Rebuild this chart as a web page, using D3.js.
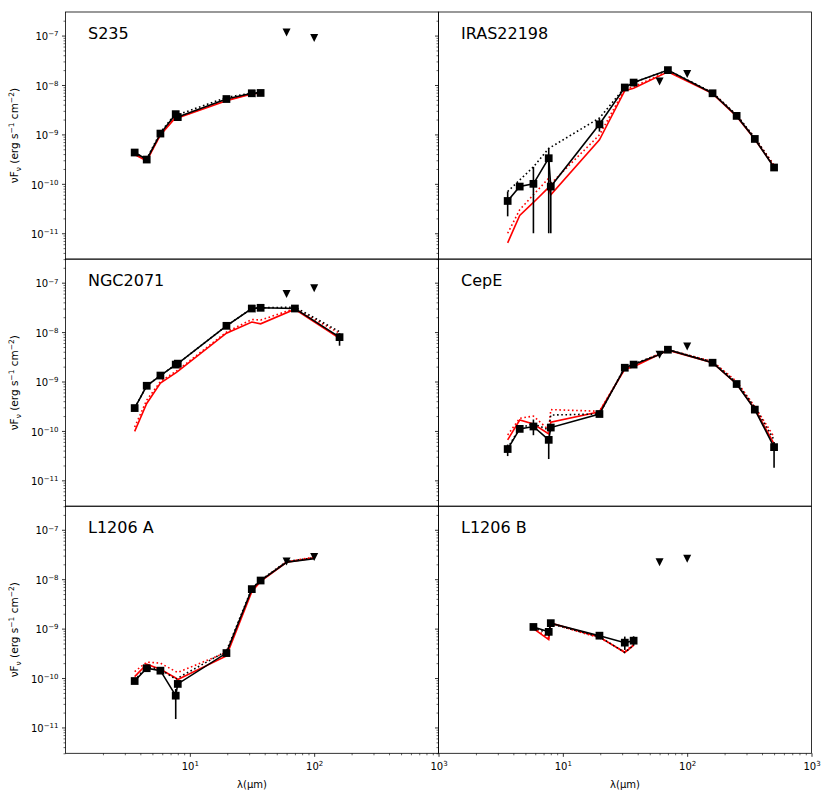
<!DOCTYPE html>
<html>
<head>
<meta charset="utf-8">
<script src="https://cdn.jsdelivr.net/npm/d3@7"></script>
<style>
body { margin: 0; background: #fff; }
text { font-family: "DejaVu Sans", sans-serif; fill: #000; }
</style>
</head>
<body>
<div id="chart"></div>
<script>
// photometric bands (micron) of the square points
var bands = [3.6, 4.5, 5.8, 7.7, 8.0, 19.7, 31.5, 37.1, 70, 160, 250, 350, 500];
// IRAS upper limits
var limitBands = [60, 100];
// wavelength grid the SED curves are drawn on
var lineBands = [3.6, 4.5, 5.8, 7.7, 8.0, 19.7, 31.5, 37.1, 60, 70, 100, 160, 250, 350, 500];

// x tick labels (exponents) and y tick exponents
var xTickExp = [1, 2, 3];
var yTickExp = [-11, -10, -9, -8, -7];

// ---- S235
var s235Obs = [4.3e-10, 3.1e-10, 1.04e-9, 2.57e-9, 2.24e-9, 5.2e-9, 6.8e-9, 6.9e-9, null, null, null, null, null];
var s235Lo = [];
var s235Hi = [];
var s235Lim = [1.15e-7, 8.9e-8];
var s235Solid = [4.3e-10, 3.1e-10, 1.04e-9, 2.57e-9, 2.24e-9, 5.2e-9, 6.8e-9, 6.9e-9];
var s235Dotted = [4.2e-10, 3.2e-10, 1.1e-9, 2.65e-9, 2.5e-9, 5.6e-9, 6.9e-9, 7.0e-9];
var s235Fit = [3.9e-10, 2.9e-10, 9.8e-10, 2.2e-9, 2.15e-9, 4.8e-9, 6.6e-9, 6.8e-9];
var s235Alt = [4.0e-10, 3.0e-10, 1.0e-9, 2.3e-9, 2.2e-9, 5.0e-9, 6.7e-9, 6.9e-9];

// ---- IRAS22198
var irasObs = [4.5e-11, 8.8e-11, 1.0e-10, 3.3e-10, 8.8e-11, 1.6e-9, 8.9e-9, 1.12e-8, 2.0e-8, 6.8e-9, 2.37e-9, 8.1e-10, 2.14e-10];
var irasLo = [2.2e-11, null, 1e-11, 1e-11, 1e-11, 1.14e-9];
var irasHi = [7e-11, null, 2.2e-10, 5.2e-10, 1.1e-10, 2.1e-9];
var irasLim = [1.17e-8, 1.67e-8];
var irasSolid = [4.5e-11, 8.8e-11, 1.0e-10, 3.3e-10, 8.8e-11, 1.6e-9, 8.9e-9, 1.12e-8, null, 2.0e-8, null, 6.8e-9, 2.37e-9, 8.1e-10, 2.14e-10];
var irasDotted = [7e-11, null, 2.2e-10, 5.2e-10, null, 2.15e-9, 8.9e-9, 1.12e-8, null, 2.0e-8, null, 7.0e-9, 2.45e-9, 8.6e-10, 2.3e-10];
var irasFit = [6.4e-12, 2.3e-11, 4.2e-11, 8.5e-11, 6e-11, 7.8e-10, 7.7e-9, 8.6e-9, null, 1.85e-8, null, 6.7e-9, 2.3e-9, 8.0e-10, 2.2e-10];
var irasAlt = [1e-11, 3.0e-11, 6e-11, 1.3e-10, 1.0e-10, 9.8e-10, 8.2e-9, 9.2e-9, null, 1.9e-8, null, 7.0e-9, 2.45e-9, 8.5e-10, 2.4e-10];

// ---- NGC2071
var ngcObs = [2.9e-10, 8.2e-10, 1.32e-9, 2.2e-9, 2.3e-9, 1.34e-8, 3.0e-8, 3.1e-8, 3.0e-8, 7.9e-9, null, null, null];
var ngcLo = [null, null, null, null, null, null, null, null, null, 5.3e-9];
var ngcHi = [null, null, null, null, null, null, null, null, null, 9.5e-9];
var ngcLim = [5.9e-8, 7.7e-8];
var ngcSolid = [2.9e-10, 8.2e-10, 1.32e-9, 2.2e-9, 2.3e-9, 1.34e-8, 3.0e-8, 3.1e-8, null, 3.0e-8, null, 7.9e-9];
var ngcDotted = [2.9e-10, 8.2e-10, 1.32e-9, 2.2e-9, 2.3e-9, 1.34e-8, 3.0e-8, 3.1e-8, null, 3.2e-8, null, 1.02e-8];
var ngcFit = [9.8e-11, 3.6e-10, 9.3e-10, 1.5e-9, 1.6e-9, 9.5e-9, 1.6e-8, 1.47e-8, null, 2.9e-8, null, 7.5e-9];
var ngcAlt = [1.2e-10, 4.2e-10, 1.0e-9, 1.6e-9, 1.7e-9, 1.0e-8, 1.8e-8, 1.75e-8, null, 3.0e-8, null, 9.5e-9];

// ---- CepE
var cepObs = [4.3e-11, 1.1e-10, 1.23e-10, 6.6e-11, 1.17e-10, 2.2e-10, 1.9e-9, 2.2e-9, 4.4e-9, 2.4e-9, 8.9e-10, 2.7e-10, 4.7e-11];
var cepLo = [3.1e-11, null, 8.2e-11, 2.7e-11, null, null, null, null, null, null, null, 2.3e-10, 1.8e-11];
var cepHi = [5.3e-11, null, 1.7e-10, 8e-11, null, null, null, null, null, null, null, 3.2e-10, 6e-11];
var cepLim = [3.5e-9, 5.1e-9];
var cepSolid = [4.3e-11, 1.1e-10, 1.23e-10, 6.6e-11, 1.17e-10, 2.2e-10, 1.9e-9, 2.2e-9, 3.5e-9, 4.4e-9, null, 2.4e-9, 8.9e-10, 2.7e-10, 4.7e-11];
var cepDotted = [4.5e-11, 1.15e-10, 1.4e-10, 1.05e-10, 2.1e-10, 2.2e-10, 1.95e-9, 2.25e-9, 3.6e-9, 4.4e-9, null, 2.5e-9, 9.5e-10, 3.0e-10, 6.6e-11];
var cepFit = [6.6e-11, 1.66e-10, 1.38e-10, 8.7e-11, 1.5e-10, 2.45e-10, 1.78e-9, 2.0e-9, null, 4.3e-9, null, 2.4e-9, 8.9e-10, 2.8e-10, 5.5e-11];
var cepAlt = [8.3e-11, 1.8e-10, 2.0e-10, 1.05e-10, 2.7e-10, 2.5e-10, 1.8e-9, 2.1e-9, null, 4.4e-9, null, 2.55e-9, 1.0e-9, 3.1e-10, 7.6e-11];

// ---- L1206 A
var l1206aObs = [8.7e-11, 1.58e-10, 1.41e-10, 4.4e-11, 7.6e-11, 3.2e-10, 6.3e-9, 9.4e-9, null, null, null, null, null];
var l1206aLo = [null, null, null, 1.48e-11];
var l1206aHi = [null, null, null, 6e-11];
var l1206aLim = [2.27e-8, 2.8e-8];
var l1206aSolid = [8.7e-11, 1.58e-10, 1.41e-10, 4.4e-11, 7.6e-11, 3.2e-10, 6.3e-9, 9.4e-9, 2.2e-8, null, 2.6e-8];
var l1206aDotted = [9e-11, 1.7e-10, 1.5e-10, 9.5e-11, 1.0e-10, 3.5e-10, 6.5e-9, 9.5e-9, 2.3e-8, null, 2.7e-8];
var l1206aFit = [1.07e-10, 1.9e-10, 1.5e-10, 1.0e-10, 9.3e-11, 2.8e-10, 5.6e-9, 9.0e-9, 2.2e-8, null, 2.7e-8];
var l1206aAlt = [1.35e-10, 2.1e-10, 2.0e-10, 1.35e-10, 1.3e-10, 3.3e-10, 6.0e-9, 9.3e-9, 2.25e-8, null, 2.8e-8];

// ---- L1206 B
var l1206bObs = [null, null, 1.08e-9, 8.6e-10, 1.29e-9, 7.2e-10, 5.2e-10, 5.7e-10, null, null, null, null, null];
var l1206bLo = [null, null, null, 7e-10, null, null, 3.7e-10, 4.5e-10];
var l1206bHi = [null, null, null, 1.0e-9, null, null, 6.9e-10, 7e-10];
var l1206bLim = [2.2e-8, 2.6e-8];
var l1206bSolid = [null, null, 1.08e-9, 8.6e-10, 1.29e-9, 7.2e-10, 5.2e-10, 5.7e-10];
var l1206bDotted = [null, null, 1.05e-9, 8.0e-10, 1.25e-9, 6.8e-10, 3.3e-10, 4.6e-10];
var l1206bFit = [null, null, 1.0e-9, 6.0e-10, 1.3e-9, 6.8e-10, 3.3e-10, 4.6e-10];
var l1206bAlt = [null, null, 1.02e-9, 6.5e-10, 1.28e-9, 6.5e-10, 3.4e-10, 4.8e-10];

var panels = [
  {name: "S235", obs: s235Obs, lo: s235Lo, hi: s235Hi, lim: s235Lim, solid: s235Solid, dotted: s235Dotted, fit: s235Fit, alt: s235Alt},
  {name: "IRAS22198", obs: irasObs, lo: irasLo, hi: irasHi, lim: irasLim, solid: irasSolid, dotted: irasDotted, fit: irasFit, alt: irasAlt},
  {name: "NGC2071", obs: ngcObs, lo: ngcLo, hi: ngcHi, lim: ngcLim, solid: ngcSolid, dotted: ngcDotted, fit: ngcFit, alt: ngcAlt},
  {name: "CepE", obs: cepObs, lo: cepLo, hi: cepHi, lim: cepLim, solid: cepSolid, dotted: cepDotted, fit: cepFit, alt: cepAlt},
  {name: "L1206 A", obs: l1206aObs, lo: l1206aLo, hi: l1206aHi, lim: l1206aLim, solid: l1206aSolid, dotted: l1206aDotted, fit: l1206aFit, alt: l1206aAlt},
  {name: "L1206 B", obs: l1206bObs, lo: l1206bLo, hi: l1206bHi, lim: l1206bLim, solid: l1206bSolid, dotted: l1206bDotted, fit: l1206bFit, alt: l1206bAlt}
];

// layout
var svgWidth = 830, svgHeight = 800;
var gridLeft = 65.5, gridTop = 12;
var panelW = 373, panelH = 247.1;

var svg = d3.select("#chart").append("svg")
  .attr("width", svgWidth)
  .attr("height", svgHeight);

// minor and major tick values on log axes
var xMinor = [], yMinor = [];
for (var k = 0; k < 3; k++) for (var m = 2; m < 10; m++) xMinor.push(m * Math.pow(10, k));
for (var k = -12; k < -6; k++) for (var m = 2; m < 10; m++) {
  var v = m * Math.pow(10, k);
  if (v > Math.pow(10, -11.523) && v < Math.pow(10, -6.523)) yMinor.push(v);
}
var xMajor = xTickExp.map(function(e) { return Math.pow(10, e); });
var yMajor = yTickExp.map(function(e) { return Math.pow(10, e); });

function supLabel(sel, exp) {
  sel.each(function() {
    var t = d3.select(this);
    t.text("10");
    t.append("tspan").attr("font-size", "7px").attr("dy", "-0.55em")
      .text(String(exp).replace("-", "\u2212"));
  });
}

function pairs(grid, vals) {
  var out = [];
  grid.forEach(function(w, i) {
    if (vals[i] != null) out.push([w, vals[i]]);
  });
  return out;
}

panels.forEach(function(p, idx) {
  var col = idx % 2, row = Math.floor(idx / 2);
  var x0 = gridLeft + col * panelW, y0 = gridTop + row * panelH;

  var x = d3.scaleLog().domain([1, 1000]).range([x0, x0 + panelW]);
  var y = d3.scaleLog().domain([Math.pow(10, -11.523), Math.pow(10, -6.523)]).range([y0 + panelH, y0]);

  var g = svg.append("g");

  // y axis ticks (left side, outward)
  var yMinorAxis = d3.axisLeft(y).tickValues(yMinor).tickSize(2).tickFormat("");
  var ya = g.append("g").attr("transform", "translate(" + x0 + ",0)").call(yMinorAxis);
  ya.select(".domain").remove();
  ya.selectAll("line").attr("stroke-width", 0.6);

  var yMajorAxis = d3.axisLeft(y).tickValues(yMajor).tickSize(3.5).tickPadding(3.5);
  var yb = g.append("g").attr("transform", "translate(" + x0 + ",0)").call(yMajorAxis);
  yb.select(".domain").remove();
  yb.selectAll("line").attr("stroke-width", 0.8);
  yb.attr("font-family", null).attr("font-size", "10px");
  if (col === 0) {
    yb.selectAll(".tick text").attr("dy", "0.42em").each(function(d, i) { supLabel(d3.select(this), yTickExp[i]); });
  } else {
    yb.selectAll(".tick text").remove();
  }

  // x axis ticks for the bottom row
  if (row === 2) {
    var bottom = y0 + panelH;
    var xMinorAxis = d3.axisBottom(x).tickValues(xMinor).tickSize(2).tickFormat("");
    var xa = g.append("g").attr("transform", "translate(0," + bottom + ")").call(xMinorAxis);
    xa.select(".domain").remove();
    xa.selectAll("line").attr("stroke-width", 0.6);

    var xMajorAxis = d3.axisBottom(x).tickValues(xMajor).tickSize(3.5).tickPadding(3.5);
    var xb = g.append("g").attr("transform", "translate(0," + bottom + ")").call(xMajorAxis);
    xb.select(".domain").remove();
    xb.selectAll("line").attr("stroke-width", 0.8);
    xb.attr("font-family", null).attr("font-size", "10px");
    xb.selectAll(".tick text").attr("dy", "1.0em").each(function(d, i) { supLabel(d3.select(this), xTickExp[i]); });

    g.append("text")
      .attr("x", x0 + panelW / 2)
      .attr("y", 788)
      .attr("text-anchor", "middle")
      .attr("font-size", "10px")
      .text("\u03bb(\u03bcm)");
  }

  // y label for the left column
  if (col === 0) {
    var yl = g.append("text")
      .attr("transform", "translate(18," + (y0 + panelH / 2) + ") rotate(-90)")
      .attr("text-anchor", "middle")
      .attr("font-size", "10.5px");
    yl.append("tspan").text("\u03bdF");
    yl.append("tspan").attr("font-size", "7.5px").attr("dy", "2.5").text("\u03bd");
    yl.append("tspan").attr("dy", "-2.5").text(" (erg s");
    yl.append("tspan").attr("font-size", "7.5px").attr("dy", "-4").text("\u22121");
    yl.append("tspan").attr("dy", "4").text(" cm");
    yl.append("tspan").attr("font-size", "7.5px").attr("dy", "-4").text("\u22122");
    yl.append("tspan").attr("dy", "4").text(")");
  }

  var line = d3.line().x(function(d) { return x(d[0]); }).y(function(d) { return y(d[1]); });

  // model and aperture curves
  g.append("path").datum(pairs(lineBands, p.alt)).attr("d", line)
    .attr("fill", "none").attr("stroke", "#ff0000").attr("stroke-width", 1.6).attr("stroke-dasharray", "1.6,2.6");
  g.append("path").datum(pairs(lineBands, p.fit)).attr("d", line)
    .attr("fill", "none").attr("stroke", "#ff0000").attr("stroke-width", 1.6);
  g.append("path").datum(pairs(lineBands, p.dotted)).attr("d", line)
    .attr("fill", "none").attr("stroke", "#000").attr("stroke-width", 1.6).attr("stroke-dasharray", "1.6,2.6");
  g.append("path").datum(pairs(lineBands, p.solid)).attr("d", line)
    .attr("fill", "none").attr("stroke", "#000").attr("stroke-width", 1.6);

  // error bars
  var errs = [];
  bands.forEach(function(w, i) {
    if (p.lo[i] != null && p.hi[i] != null) errs.push([w, p.lo[i], p.hi[i]]);
  });
  g.selectAll(".err").data(errs).enter().append("line")
    .attr("x1", function(d) { return x(d[0]); })
    .attr("x2", function(d) { return x(d[0]); })
    .attr("y1", function(d) { return y(d[1]); })
    .attr("y2", function(d) { return y(d[2]); })
    .attr("stroke", "#000").attr("stroke-width", 1.6);

  // measured fluxes
  g.selectAll(".pt").data(pairs(bands, p.obs)).enter().append("path")
    .attr("transform", function(d) { return "translate(" + x(d[0]) + "," + y(d[1]) + ")"; })
    .attr("d", d3.symbol().type(d3.symbolSquare).size(60))
    .attr("fill", "#000");

  // upper limits
  g.selectAll(".lim").data(pairs(limitBands, p.lim)).enter().append("path")
    .attr("transform", function(d) { return "translate(" + x(d[0]) + "," + y(d[1]) + ")"; })
    .attr("d", "M-4,-4L4,-4L0,4Z")
    .attr("fill", "#000");

  // frame
  g.append("rect")
    .attr("x", x0).attr("y", y0)
    .attr("width", panelW).attr("height", panelH)
    .attr("fill", "none").attr("stroke", "#000").attr("stroke-width", 0.8);

  // source name
  g.append("text")
    .attr("x", x0 + 22.5)
    .attr("y", y0 + 26.5)
    .attr("font-size", "16px")
    .text(p.name);
});
</script>
</body>
</html>
